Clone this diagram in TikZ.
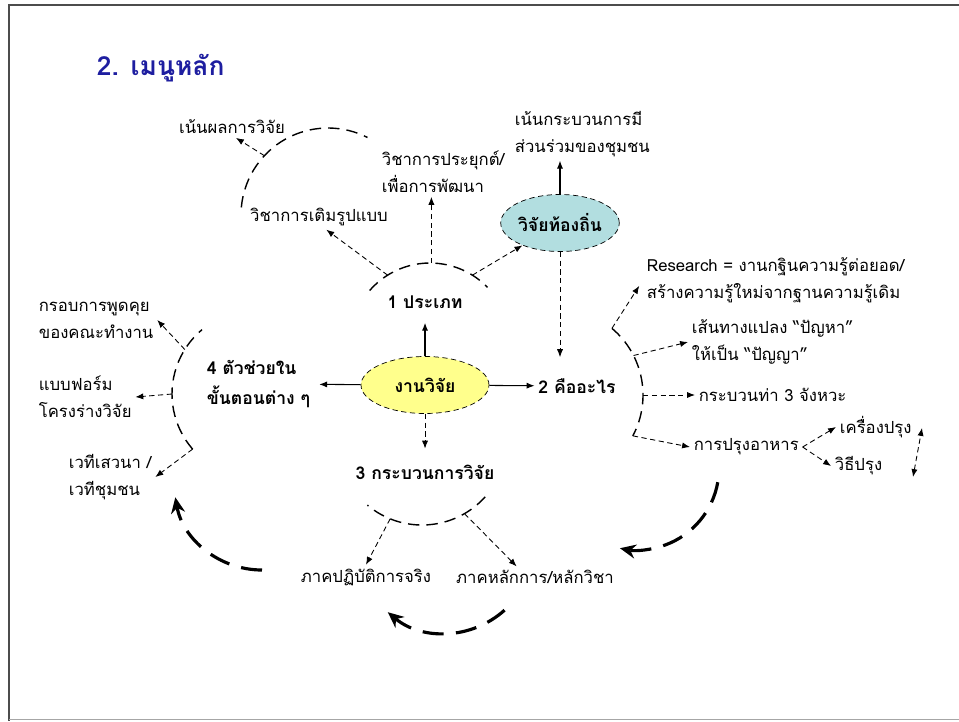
\documentclass[tikz,border=0pt]{standalone}
\usepackage{fontspec}
\setmainfont[Script=Thai]{Loma}
\usetikzlibrary{shapes.geometric,arrows.meta}
\definecolor{titleblue}{RGB}{30,30,160}
\definecolor{paleyellow}{RGB}{255,255,140}
\definecolor{palecyan}{RGB}{178,222,224}
\begin{document}
\begin{tikzpicture}[x=0.02cm,y=-0.02cm,
    >={Latex[length=4.5pt,width=3.5pt]},
    every node/.style={font=\fontsize{9.5}{15.5}\selectfont,inner sep=2pt},
    lbl/.style={align=left},
    hub/.style={font=\fontsize{10}{17.5}\selectfont\bfseries},
    bubble/.style={ellipse,draw,densely dashed,inner sep=0pt,minimum height=1.14cm,
      font=\fontsize{10}{12}\selectfont\bfseries},
    ring/.style={line width=0.8pt,dash pattern=on 6.5pt off 4pt},
    dasharrow/.style={->,densely dashed,line width=0.5pt},
    solidarrow/.style={->,line width=0.6pt},
    bigarrow/.style={line width=1.8pt,dash pattern=on 12pt off 7pt,
      -{Stealth[length=9pt,width=8pt]}}]
  \useasboundingbox (0,0) rectangle (959,721);
  \draw[line width=1.2pt,draw=black!70] (959,5) -- (9,5) -- (9,721);
  \draw[draw=black!35] (9,719) -- (959,719);
  \node[anchor=west,font=\fontsize{15}{17}\selectfont\bfseries,text=titleblue] (title) at (93,68) {2. เมนูหลัก};

  % hubs
  \node[bubble,fill=paleyellow,minimum width=2.56cm] (research) at (425,385) {งานวิจัย};
  \node[bubble,fill=palecyan,minimum width=2.28cm] (local) at (560,223) {วิจัยท้องถิ่น};
  \node[hub] (type) at (425,302) {1 ประเภท};
  \node[hub] (what) at (577,386) {2 คืออะไร};
  \node[hub] (process) at (425,472) {3 กระบวนการวิจัย};
  \node[hub,lbl,anchor=west] (helper) at (203,384) {4 ตัวช่วยใน\\ขั้นตอนต่าง ๆ};

  % leaves
  \node (typeResult) at (232,127) {เน้นผลการวิจัย};
  \node (typeForm) at (319,217) {วิชาการเติมรูปแบบ};
  \node[lbl,anchor=west] (typeApply) at (378,172) {วิชาการประยุกต์/\\เพื่อการพัฒนา};
  \node[lbl,anchor=west] (localPart) at (511,134) {เน้นกระบวนการมี\\ส่วนร่วมของชุมชน};
  \node[lbl,anchor=west] (whatDef) at (643,280) {Research = งานกฐินความรู้ต่อยอด/\\สร้างความรู้ใหม่จากฐานความรู้เดิม};
  \node[lbl,anchor=west] (whatPath) at (688,342) {เส้นทางแปลง “ปัญหา”\\ให้เป็น “ปัญญา”};
  \node[anchor=west] (whatMove) at (695,395) {กระบวนท่า 3 จังหวะ};
  \node[anchor=west] (whatCook) at (690,447) {การปรุงอาหาร};
  \node[anchor=west] (cookIngr) at (836,427) {เครื่องปรุง};
  \node[anchor=west] (cookWay) at (831,466) {วิธีปรุง};
  \node[lbl,anchor=west] (helpTalk) at (35,320) {กรอบการพูดคุย\\ของคณะทำงาน};
  \node[lbl,anchor=west] (helpForm) at (35,397) {แบบฟอร์ม\\โครงร่างวิจัย};
  \node[lbl,anchor=west] (helpForum) at (65,477) {เวทีเสวนา /\\เวทีชุมชน};
  \node (procPractice) at (366,577) {ภาคปฏิบัติการจริง};
  \node (procPrinciple) at (535,577) {ภาคหลักการ/หลักวิชา};

  % from the centre
  \draw[solidarrow,shorten >=6pt] (research) -- (type);
  \draw[solidarrow,shorten >=3pt] (research) -- (helper);
  \draw[solidarrow] (research) -- (what);
  \draw[dasharrow,shorten >=7pt] (research) -- (process);

  % 1
  \draw[ring] (430,343) +(221:80) arc[start angle=221,end angle=316,radius=80];
  \path (430,343) +(238:80) coordinate (typeL) +(271:80) coordinate (typeUp) +(302:80) coordinate (typeR);
  \draw[dasharrow] (typeL) -- (typeForm.-60);
  \draw[dasharrow] (typeUp) -- (typeUp |- typeApply.south);
  \draw[dasharrow] (typeR) -- (local);
  \draw[ring] (328,215) +(185:87) arc[start angle=185,end angle=297,radius=87];
  \path (328,215) +(223:87) coordinate (bigRoot);
  \draw[dasharrow] (bigRoot) -- (typeResult.-70);
  \draw[solidarrow] (local) -- (local |- localPart.south);
  \draw[dasharrow,shorten >=10pt] (local) -- (local |- what.north);

  % 2
  \draw[ring] (556,395) +(-50:87) arc[start angle=-50,end angle=28,radius=87];
  \path (556,395) +(-50:87) coordinate (whatA) +(-27:87) coordinate (whatB)
    +(0:87) coordinate (whatC) +(28:87) coordinate (whatD);
  \draw[dasharrow,shorten >=4pt] (whatA) -- (whatDef.west);
  \draw[dasharrow] (whatB) -- (whatPath.west);
  \draw[dasharrow] (whatC) -- (whatMove.west);
  \draw[dasharrow] (whatD) -- (whatCook.west);
  \draw[dasharrow] (whatCook.east) -- (cookIngr.west);
  \draw[dasharrow] (whatCook.east) -- (cookWay.west);
  \coordinate (cycleTop) at (922,428);
  \coordinate (cycleBot) at (913,477);
  \draw[dasharrow,<->] (cycleBot) -- (cycleTop);

  % 4
  \draw[ring] (256,394) +(139:84) arc[start angle=139,end angle=230,radius=84];
  \path (256,394) +(212:84) coordinate (helpA) +(180:84) coordinate (helpB) +(139:84) coordinate (helpC);
  \draw[dasharrow] (helpA) -- (helpTalk.east);
  \draw[dasharrow] (helpB) -- (helpForm.east);
  \draw[dasharrow] (helpC) -- (helpForum.east);

  % 3
  \draw[ring] (422,440) +(42:85) arc[start angle=42,end angle=130,radius=85];
  \path (422,440) +(112:85) coordinate (procA) +(60:85) coordinate (procB);
  \draw[dasharrow] (procA) -- (procPractice.north);
  \draw[dasharrow] (procB) -- (procPrinciple.150);

  % cycle
  \draw[bigarrow] (262,482) +(90:88) arc[start angle=90,end angle=170,radius=88];
  \draw[bigarrow] (637,468) +(10:82) arc[start angle=10,end angle=102,radius=82];
  \draw[bigarrow] (445,544) +(48:89) arc[start angle=48,end angle=130,radius=89];
\end{tikzpicture}
\end{document}
